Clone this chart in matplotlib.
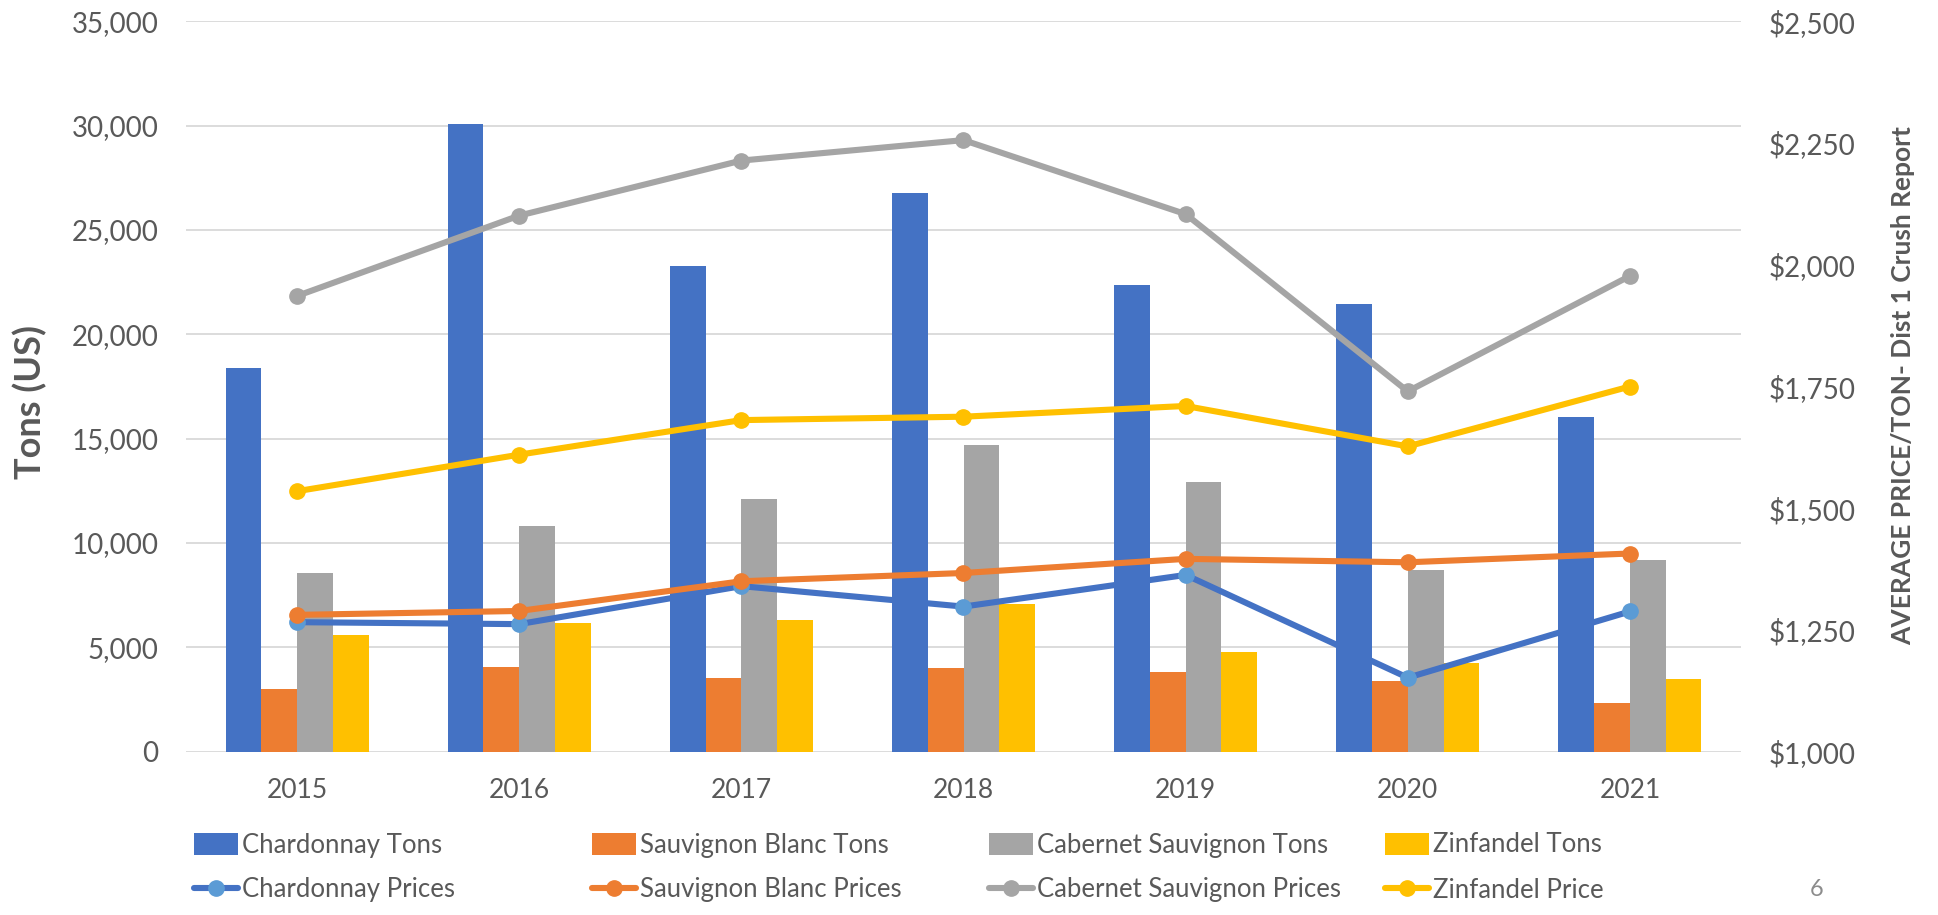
import matplotlib
matplotlib.use("Agg")
import matplotlib.pyplot as plt
from matplotlib.patches import Patch
from matplotlib.lines import Line2D
import numpy as np

plt.rcParams['font.family'] = ['Lato', 'DejaVu Sans']

years = ["2015", "2016", "2017", "2018", "2019", "2020", "2021"]

chardonnay_tons = [18370, 30100, 23290, 26750, 22340, 21430, 16030]
sauv_blanc_tons = [2990, 4050, 3510, 4010, 3810, 3390, 2340]
cabernet_tons = [8560, 10830, 12120, 14700, 12900, 8690, 9180]
zinfandel_tons = [5580, 6150, 6330, 7100, 4800, 4250, 3480]

chardonnay_prices = [1266, 1262, 1340, 1298, 1363, 1152, 1288]
sauv_blanc_prices = [1281, 1289, 1350, 1367, 1396, 1389, 1407]
cabernet_prices = [1936, 2101, 2214, 2256, 2104, 1740, 1977]
zinfandel_prices = [1535, 1610, 1681, 1688, 1710, 1627, 1750]

bar_labels = ["Chardonnay Tons", "Sauvignon Blanc Tons", "Cabernet Sauvignon Tons", "Zinfandel Tons"]
line_labels = ["Chardonnay Prices", "Sauvignon Blanc Prices", "Cabernet Sauvignon Prices", "Zinfandel Price"]

BLUE = "#4472C4"
ORANGE = "#ED7D31"
GRAY = "#A5A5A5"
YELLOW = "#FFC000"
LBLUE = "#5B9BD5"
TXT = "#595959"

bar_colors = [BLUE, ORANGE, GRAY, YELLOW]
line_colors = [BLUE, ORANGE, GRAY, YELLOW]
marker_colors = [LBLUE, ORANGE, GRAY, YELLOW]

W, H = 1938, 915
fig = plt.figure(figsize=(W / 100, H / 100), dpi=100)
ax = fig.add_axes([186 / W, 1 - 751.7 / H, (1741 - 186) / W, (751.7 - 21.3) / H])
ax2 = ax.twinx()

x = np.arange(len(years))
bw = 0.161
tons = [chardonnay_tons, sauv_blanc_tons, cabernet_tons, zinfandel_tons]
for i, (vals, c) in enumerate(zip(tons, bar_colors)):
    ax.bar(x + (i - 1.5) * bw, vals, width=bw, color=c, linewidth=0, zorder=2)

prices = [chardonnay_prices, sauv_blanc_prices, cabernet_prices, zinfandel_prices]
for vals, lc, mc in zip(prices, line_colors, marker_colors):
    ax2.plot(x, vals, color=lc, lw=4.4, marker='o', markersize=11,
             markerfacecolor=mc, markeredgecolor=mc, solid_capstyle='round', zorder=3)

ax.set_xlim(-0.5, 6.5)
ax.set_ylim(0, 35000)
ax2.set_ylim(1000, 2500)
ax.set_yticks(np.arange(0, 35001, 5000))
ax.set_yticklabels([f"{v:,}" for v in range(0, 35001, 5000)])
ax2.set_yticks(np.arange(1000, 2501, 250))
ax2.set_yticklabels([f"${v:,}" for v in range(1000, 2501, 250)])
ax.set_xticks(x)
ax.set_xticklabels(years)

ax.yaxis.grid(True, color="#D9D9D9", lw=1.3, zorder=0)
ax.set_axisbelow(True)
for a in (ax, ax2):
    for s in a.spines.values():
        s.set_visible(False)
ax.tick_params(axis='y', length=0, pad=20, labelsize=20, labelcolor=TXT)
ax2.tick_params(axis='y', length=0, pad=20, labelsize=20, labelcolor=TXT)
ax.tick_params(axis='x', length=0, pad=19, labelsize=19, labelcolor=TXT)

fig.text(30 / W, 1 - 402 / H, "Tons (US)", rotation=90, ha='center', va='center',
         fontsize=26, fontweight='bold', color=TXT)
fig.text(1903 / W, 1 - 386 / H, "AVERAGE PRICE/TON- Dist 1 Crush Report", rotation=90,
         ha='center', va='center', fontsize=19, fontweight='bold', color=TXT)

col_x = [194, 592, 989, 1385]
row_y = [845, 890]
for i in range(4):
    h_bar = Patch(facecolor=bar_colors[i], edgecolor='none')
    h_line = Line2D([0], [0], color=line_colors[i], lw=4.4, marker='o', markersize=11,
                    markerfacecolor=marker_colors[i], markeredgecolor=marker_colors[i],
                    solid_capstyle='round')
    for h, lab, ry in ((h_bar, bar_labels[i], row_y[0]), (h_line, line_labels[i], row_y[1])):
        leg = fig.legend(handles=[h], labels=[lab], loc='center left',
                         bbox_to_anchor=(col_x[i] / W, 1 - ry / H), frameon=False,
                         fontsize=18.5, handlelength=1.7, handleheight=0.95, handletextpad=0.15,
                         borderpad=0, borderaxespad=0, labelcolor=TXT)

fig.text(1817 / W, 1 - 890 / H, "6", ha='center', va='center', fontsize=17, color="#8C8C8C")

fig.savefig("out.png", dpi=100)
